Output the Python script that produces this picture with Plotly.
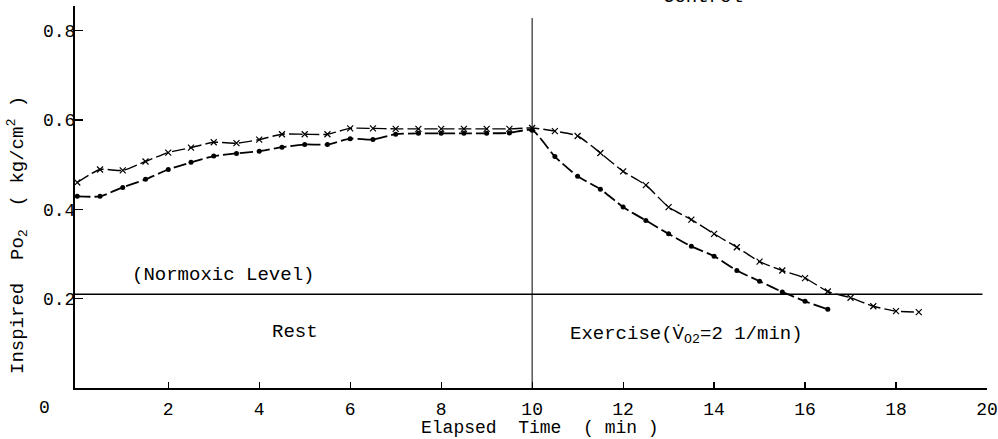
import plotly.graph_objects as go

# Elapsed time (min)
t_upper = [0, 0.5, 1, 1.5, 2, 2.5, 3, 3.5, 4, 4.5, 5, 5.5, 6, 6.5, 7, 7.5, 8, 8.5, 9, 9.5, 10,
           10.5, 11, 11.5, 12, 12.5, 13, 13.5, 14, 14.5, 15, 15.5, 16, 16.5, 17, 17.5, 18, 18.5]
po2_upper = [0.460, 0.489, 0.487, 0.507, 0.527, 0.538, 0.550, 0.548, 0.556, 0.568, 0.568, 0.568,
             0.581, 0.581, 0.580, 0.580, 0.580, 0.580, 0.580, 0.580, 0.582,
             0.575, 0.564, 0.526, 0.485, 0.454, 0.405, 0.377, 0.345, 0.315, 0.283, 0.263,
             0.246, 0.216, 0.202, 0.183, 0.172, 0.170]

t_lower = [0, 0.5, 1, 1.5, 2, 2.5, 3, 3.5, 4, 4.5, 5, 5.5, 6, 6.5, 7, 7.5, 8, 8.5, 9, 9.5, 10,
           10.5, 11, 11.5, 12, 12.5, 13, 13.5, 14, 14.5, 15, 15.5, 16, 16.5]
po2_lower = [0.429, 0.429, 0.449, 0.467, 0.489, 0.505, 0.519, 0.525, 0.530, 0.539, 0.545, 0.545,
             0.558, 0.556, 0.568, 0.570, 0.570, 0.570, 0.570, 0.571, 0.577,
             0.518, 0.474, 0.445, 0.405, 0.375, 0.345, 0.317, 0.295, 0.263, 0.239, 0.215,
             0.194, 0.176]

normoxic_level = 0.21
exercise_start = 10
x_ticks = [2, 4, 6, 8, 10, 12, 14, 16, 18, 20]
y_ticks = [0.2, 0.4, 0.6, 0.8]
y_tick_text = ["0.2", "0.4", "0.6", "0.8"]

FONT = "Liberation Mono"
TXT = dict(size=19, family=FONT, color="black")

fig = go.Figure()

fig.add_trace(go.Scatter(
    x=t_upper, y=po2_upper, mode="lines+markers",
    line=dict(color="black", width=1.4, dash="13px,4px", shape="spline", smoothing=0.6),
    marker=dict(symbol="x-thin", size=6, line=dict(color="black", width=1.2)),
    showlegend=False))

fig.add_trace(go.Scatter(
    x=t_lower, y=po2_lower, mode="lines+markers",
    line=dict(color="black", width=1.8, dash="13px,4px", shape="spline", smoothing=0.6),
    marker=dict(symbol="circle", size=5, color="black"),
    showlegend=False))

# normoxic level line
fig.add_shape(type="line", xref="paper", yref="y", x0=0, x1=0.995,
              y0=normoxic_level, y1=normoxic_level, line=dict(color="black", width=1.6))
# exercise start vertical line
fig.add_shape(type="line", xref="x", yref="y", x0=exercise_start, x1=exercise_start,
              y0=0, y1=0.828, line=dict(color="black", width=1))


def note(text, x, y, font=TXT, **kw):
    d = dict(text=text, x=x, y=y, xref="paper", yref="paper", showarrow=False,
             xanchor="center", yanchor="middle", font=font)
    d.update(kw)
    return d


annotations = [
    note("(Normoxic Level)", 0.1623, 0.2958),
    note("Rest", 0.2412, 0.1466),
    note("Exercise(V\u0307<sub>O2</sub>=2 1/min)", 0.67, 0.139),
    note("0", -0.0329, -0.0524, font=dict(size=18, family=FONT, color="black")),
    note("Control", 0.6886, 0.9895, yanchor="bottom"),
    note("Elapsed  Time  ( min )", 0.51, -0.1047, font=dict(size=18, family=FONT, color="black")),
    note("Inspired  Po<sub>2</sub>  ( kg/cm<sup>2</sup> )", -0.0636, 0.4005, textangle=-90),
]

fig.update_layout(
    width=998, height=439,
    margin=dict(l=75, r=11, t=6, b=51, autoexpand=False),
    paper_bgcolor="white", plot_bgcolor="white",
    font=dict(family=FONT, color="black", size=18),
    annotations=annotations,
    hovermode=False,
    xaxis=dict(range=[-0.05, 20.0], tickvals=x_ticks, ticktext=[str(v) for v in x_ticks],
               ticks="inside", ticklen=6, tickwidth=1.2, tickcolor="black",
               showline=True, linecolor="black", linewidth=2, showgrid=False, zeroline=False,
               ticklabelstandoff=3, automargin=False),
    yaxis=dict(range=[0, 0.855], tickvals=y_ticks, ticktext=y_tick_text,
               ticks="inside", ticklen=8, tickwidth=1.2, tickcolor="black",
               showline=True, linecolor="black", linewidth=2, showgrid=False, zeroline=False,
               ticklabelstandoff=-6, automargin=False),
)

fig.write_html("out.html", config={"displayModeBar": False, "staticPlot": True},
               post_script="document.body.style.margin='0';")
